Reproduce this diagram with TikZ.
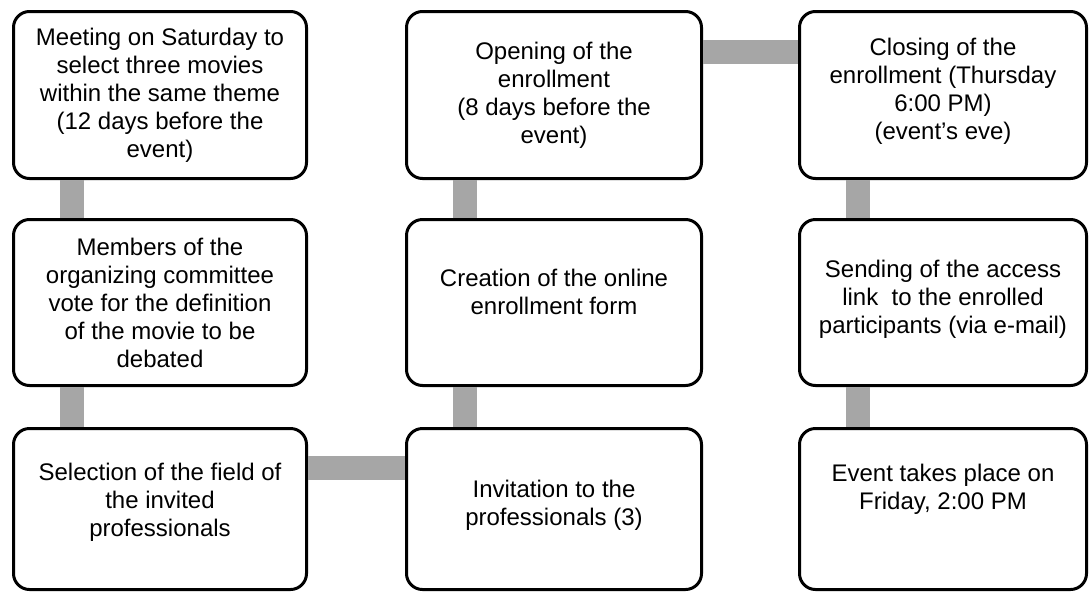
\documentclass[tikz,border=0pt]{standalone}
\usepackage{fontspec}
\setmainfont{Liberation Sans}
\usepackage{xcolor}
\usepackage{tikz}
\definecolor{linkgray}{RGB}{166,166,166}
\tikzset{
  stepbox/.style={%
    draw=black,
    line width=3pt,
    rounded corners=16pt,
    fill=white,
    align=center,
    inner sep=0,
    font=\fontsize{24pt}{28pt}\selectfont,
  },
  link/.style={%
    draw=linkgray,
    line width=24pt,
  }
}

\begin{document}
\begin{tikzpicture}[x=1pt,y=-1pt]
    \useasboundingbox (0,0) rectangle (1089,592);
    \node (meeting) [stepbox,minimum width=293pt,minimum height=167pt] at (160,95)
        {Meeting on Saturday to\\select three movies\\within the same theme\\(12 days before the\\event)};
    \node (vote) [stepbox,minimum width=293pt,minimum height=166pt] at (160,302.5)
        {Members of the\\organizing committee\\vote for the definition\\of the movie to be\\debated};
    \node (field) [stepbox,minimum width=293pt,minimum height=161pt,text depth=19pt] at (160,509)
        {Selection of the field of\\the invited\\professionals};
    \node (invite) [stepbox,minimum width=295pt,minimum height=161pt,text depth=13pt] at (554,509)
        {Invitation to the\\professionals (3)};
    \node (form) [stepbox,minimum width=295pt,minimum height=166pt,text depth=22pt] at (554,302.5)
        {Creation of the online\\enrollment form};
    \node (opening) [stepbox,minimum width=295pt,minimum height=167pt] at (554,95)
        {Opening of the\\enrollment\\(8 days before the\\event)};
    \node (closing) [stepbox,minimum width=287pt,minimum height=167pt,text depth=13pt] at (943,95)
        {Closing of the\\enrollment (Thursday\\6:00 PM)\\(event’s eve)};
    \node (sending) [stepbox,minimum width=287pt,minimum height=166pt,text depth=12pt] at (943,302.5)
        {Sending of the access\\link\ \ to the enrolled\\participants (via e-mail)};
    \node (event) [stepbox,minimum width=287pt,minimum height=161pt,text depth=45pt] at (943,509)
        {Event takes place on\\Friday, 2:00 PM};
    \draw [link] ([xshift=60pt]meeting.south west) -- ([xshift=60pt]vote.north west);
    \draw [link] ([xshift=60pt]vote.south west) -- ([xshift=60pt]field.north west);
    \draw [link] ([yshift=-41pt]field.north east) -- ([yshift=-41pt]invite.north west);
    \draw [link] ([xshift=60pt]invite.north west) -- ([xshift=60pt]form.south west);
    \draw [link] ([xshift=60pt]form.north west) -- ([xshift=60pt]opening.south west);
    \draw [link] ([yshift=-42pt]opening.north east) -- ([yshift=-42pt]closing.north west);
    \draw [link] ([xshift=60pt]closing.south west) -- ([xshift=60pt]sending.north west);
    \draw [link] ([xshift=60pt]sending.south west) -- ([xshift=60pt]event.north west);
\end{tikzpicture}
\end{document}
